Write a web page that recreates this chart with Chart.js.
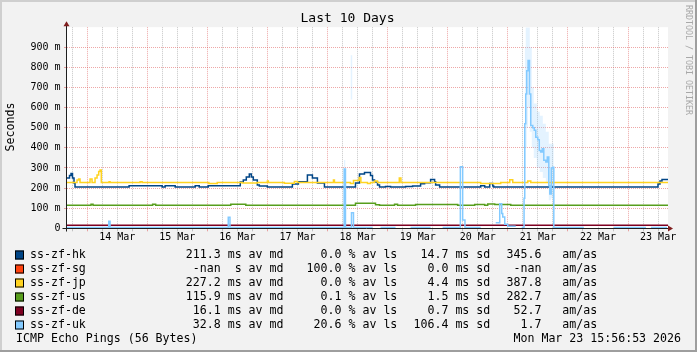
<!DOCTYPE html>
<html>
<head>
<meta charset="utf-8">
<script src="https://cdn.jsdelivr.net/npm/chart.js@4.4.1/dist/chart.umd.min.js"></script>
<style>
  html, body { margin: 0; padding: 0; background: #f2f2f2; }
  canvas { display: block; }
</style>
</head>
<body>
<canvas id="pingChart" width="697" height="352"></canvas>
<script>
// x values are hours since 13 Mar 00:00; graph ends Mon Mar 23 15:56:53
const startHour = 15.95;
const endHour = 255.95;
const dayLabels = ['14 Mar', '15 Mar', '16 Mar', '17 Mar', '18 Mar', '19 Mar', '20 Mar', '21 Mar', '22 Mar', '23 Mar'];

const targets = ['ss-zf-hk', 'ss-zf-sg', 'ss-zf-jp', 'ss-zf-us', 'ss-zf-de', 'ss-zf-uk'];
const colors = ['#004586', '#ff420e', '#ffd320', '#579d1c', '#7e0021', '#83caff'];
const medianMs = [211.3, NaN, 227.2, 115.9, 16.1, 32.8];
const lossPct = [0.0, 100.0, 0.0, 0.1, 0.0, 20.6];
const sdMs = [14.7, 0.0, 4.4, 1.5, 0.7, 106.4];
const amas = [345.6, NaN, 387.8, 282.7, 52.7, 1.7];

// median rtt in ms, step series (value holds from previous point up to the next)
const hkTime = [15.95, 16.95, 17.55, 18.15, 18.75, 19.15, 40.75, 53.95, 55.15, 59.15, 67.15, 68.75, 72.35, 85.15, 86.35, 87.55, 88.75, 89.55, 90.35, 91.95, 92.75, 95.95, 105.95, 108.35, 108.75, 111.95, 113.95, 115.95, 118.75, 131.15, 132.75, 134.75, 137.15, 137.95, 138.75, 139.95, 140.75, 143.15, 145.15, 151.15, 153.95, 157.15, 158.75, 161.15, 162.75, 163.15, 164.75, 181.15, 182.75, 184.75, 185.95, 186.35, 251.95, 252.75, 253.55, 255.95];
const hkMs = [250, 262, 273, 250, 225, 205, 212, 205, 212, 205, 212, 205, 212, 230, 240, 255, 270, 255, 240, 215, 210, 205, 220, 230, 232, 265, 250, 225, 205, 225, 270, 278, 262, 240, 230, 215, 205, 208, 205, 208, 210, 222, 226, 243, 232, 215, 205, 212, 205, 223, 210, 205, 220, 235, 243, 243];

const jpTime = [15.95, 19.95, 20.6, 21.15, 25.15, 25.95, 27.15, 27.95, 28.6, 29.15, 29.65, 32.75, 33.15, 45.15, 45.95, 72.6, 75.95, 85.95, 91.95, 95.95, 96.35, 102.75, 106.75, 107.95, 122.35, 122.75, 129.15, 130.35, 132.65, 133.3, 135.95, 137.15, 138.75, 139.95, 148.65, 149.3, 181.15, 189.15, 192.75, 193.95, 199.95, 201.15, 255.95];
const jpMs = [228, 240, 245, 228, 245, 228, 250, 265, 283, 290, 228, 232, 228, 232, 228, 223, 228, 225, 228, 235, 228, 224, 233, 228, 240, 228, 223, 238, 253, 228, 223, 228, 235, 228, 250, 228, 223, 228, 242, 228, 235, 228, 228];

const usTime = [15.95, 25.55, 26.35, 50.15, 51.35, 81.35, 87.35, 131.15, 139.15, 140.75, 146.75, 147.95, 155.15, 171.95, 178.75, 182.75, 183.95, 186.75, 193.15, 255.95];
const usMs = [114, 120, 114, 120, 114, 120, 114, 124, 117, 114, 119, 114, 118, 114, 118, 114, 121, 118, 114, 114];

const deTime = [15.95, 255.95];
const deMs = [15, 15];

const ukTime = [15.95, 32.63, 33.15, 80.35, 81.03, 126.63, 127.15, 129.55, 130.35, 137.95, 138.35, 141.15, 147.15, 147.55, 153.15, 161.15, 161.55, 165.95, 173.03, 173.95, 174.87, 181.15, 181.55, 187.15, 188.75, 189.55, 189.95, 190.75, 191.95, 195.15, 195.55, 197.55, 198.47, 198.75, 199.15, 199.55, 200.07, 200.63, 201.15, 201.95, 202.55, 203.15, 203.95, 204.55, 205.15, 205.75, 206.35, 207.15, 207.75, 208.35, 208.75, 209.35, 209.95, 210.35, 222.35, 222.75, 234.35, 247.15, 247.55, 249.15, 255.55];
const ukMs = [4, 35, 4, 55, 4, 295, 4, 77, 4, 4, null, 4, 4, null, 4, 4, null, 4, 306, 41, 4, 4, null, 28, 122, 74, 56, 20, 10, 10, null, 4, 150, 520, 668, 784, 834, 668, 511, 500, 488, 453, 440, 387, 380, 395, 338, 330, 354, 213, 170, 300, 304, 4, 4, null, 4, 4, null, 4, 4];

// uk smoke (spread of the pings)
const smokeTime = [126.55, 127.15, 127.55, 129.15, 129.95, 130.35, 198.75, 199.15, 199.55, 200.07, 200.75, 201.55, 202.35, 203.55, 204.75, 205.95, 207.15, 208.35, 209.15, 210.35];
const smokeLow = [0, 0, null, 640, 640, null, 300, 400, 500, 600, 480, 400, 350, 300, 280, 250, 230, 140, 150, 150];
const smokeHigh = [340, 340, null, 860, 860, null, 900, 1000, 1000, 1000, 900, 700, 620, 580, 560, 520, 480, 420, 420, 420];

const MONO = '"DejaVu Sans Mono", monospace';
const GRID = 'rgba(143,143,143,0.5)';
const MGRID = 'rgba(222,80,80,0.5)';

const xy = (xs, ys) => xs.map((x, i) => ({ x: x, y: ys[i] }));
const gridHours = [];
for (let h = Math.ceil(startHour / 6) * 6; h <= endHour; h += 6) gridHours.push(h);

function line(data, color, order) {
  return { data: data, borderColor: color, borderWidth: 1.5, pointRadius: 0, stepped: true, fill: false, order: order, spanGaps: false };
}

const fmt = v => (isNaN(v) ? '-nan' : v.toFixed(1)).padStart(5);

const decor = {
  id: 'decor',
  beforeDraw(chart) {
    const c = chart.ctx, a = chart.chartArea;
    c.save();
    c.fillStyle = '#f2f2f2';
    c.fillRect(0, 0, 697, 352);
    c.fillStyle = '#cfcfcf';
    c.fillRect(0, 0, 697, 2);
    c.fillRect(0, 0, 2, 352);
    c.fillStyle = '#9e9e9e';
    c.fillRect(0, 350, 697, 2);
    c.fillRect(695, 0, 2, 352);
    c.fillStyle = '#ffffff';
    c.fillRect(a.left, a.top, a.right - a.left, a.bottom - a.top);
    c.restore();
  },
  afterDatasetsDraw(chart) {
    const c = chart.ctx, a = chart.chartArea;
    const ax = Math.round(a.left) - 0.5, ay = Math.round(a.bottom) + 0.5;
    c.save();
    c.strokeStyle = '#1f1f1f';
    c.lineWidth = 1;
    c.beginPath();
    c.moveTo(ax, ay + 3); c.lineTo(ax, a.top - 2);
    c.moveTo(ax - 4, ay); c.lineTo(a.right + 2, ay);
    c.stroke();
    c.fillStyle = '#801f1f';
    c.beginPath();
    c.moveTo(ax - 3, a.top - 1); c.lineTo(ax + 3, a.top - 1); c.lineTo(ax, a.top - 6); c.closePath();
    c.fill();
    c.beginPath();
    c.moveTo(a.right, ay - 3); c.lineTo(a.right, ay + 3); c.lineTo(a.right + 5, ay); c.closePath();
    c.fill();
    c.restore();
  },
  afterDraw(chart) {
    const c = chart.ctx;
    c.save();
    c.fillStyle = '#000';
    c.textBaseline = 'middle';
    c.font = '13px ' + MONO;
    c.textAlign = 'center';
    c.fillText('Last 10 Days', 347.5, 19);

    c.save();
    c.translate(10.5, 127);
    c.rotate(-Math.PI / 2);
    c.font = '11.6px ' + MONO;
    c.fillText('Seconds', 0, 0);
    c.restore();

    c.save();
    c.translate(688.5, 5);
    c.rotate(Math.PI / 2);
    c.textAlign = 'left';
    c.fillStyle = '#a8a8a8';
    c.font = '8.3px ' + MONO;
    c.fillText('RRDTOOL / TOBI OETIKER', 0, 0);
    c.restore();

    c.font = '11.6px ' + MONO;
    c.textAlign = 'left';
    targets.forEach((name, i) => {
      const y = 254.5 + 14 * i;
      c.fillStyle = colors[i];
      c.fillRect(15, y - 4, 9, 9);
      c.strokeStyle = '#000';
      c.lineWidth = 1;
      c.strokeRect(15.5, y - 3.5, 8, 8);
      c.fillStyle = '#000';
      c.fillText(name, 30, y);
      const unit = isNaN(medianMs[i]) ? ' ' : 'm';
      c.fillText(fmt(medianMs[i]) + ' ' + unit + 's av md', 185.8, y);
      c.fillText(fmt(lossPct[i]) + ' % av ls', 306.6, y);
      c.fillText(fmt(sdMs[i]) + ' ms sd', 413.5, y);
      c.fillText(fmt(amas[i]) + '   am/as', 506.5, y);
    });
    c.fillText('ICMP Echo Pings (56 Bytes)', 16, 338.5);
    c.textAlign = 'right';
    c.fillText('Mon Mar 23 15:56:53 2026', 681, 338.5);
    c.restore();
  }
};

new Chart(document.getElementById('pingChart'), {
  type: 'line',
  data: {
    datasets: [
      { data: xy(smokeTime, smokeHigh), borderWidth: 0, pointRadius: 0, stepped: true, fill: '+1', backgroundColor: 'rgba(131,202,255,0.22)', order: 10 },
      { data: xy(smokeTime, smokeLow), borderWidth: 0, pointRadius: 0, stepped: true, fill: false, order: 11 },
      line(xy(hkTime, hkMs), colors[0], 6),
      line(xy(jpTime, jpMs), colors[2], 4),
      line(xy(usTime, usMs), colors[3], 3),
      line(xy(deTime, deMs), colors[4], 2),
      line(xy(ukTime, ukMs), colors[5], 1)
    ]
  },
  options: {
    responsive: false,
    animation: false,
    devicePixelRatio: 1,
    layout: { padding: { top: 27.2, right: 29, bottom: 0, left: 0 } },
    plugins: { legend: { display: false }, tooltip: { enabled: false } },
    scales: {
      x: {
        type: 'linear',
        min: startHour,
        max: endHour,
        afterBuildTicks: s => { s.ticks = gridHours.map(v => ({ value: v })); },
        afterFit: s => { s.height = 123.7; },
        grid: {
          color: ctx => (ctx.tick && ctx.tick.value % 24 === 0 ? MGRID : GRID),
          tickLength: 3
        },
        border: { display: false, dash: [1, 1] },
        ticks: {
          autoSkip: false,
          maxRotation: 0,
          padding: 0,
          color: '#000',
          font: { family: MONO, size: 10 },
          callback: v => (v % 24 === 12 ? dayLabels[(v - 36) / 24] || '' : '')
        }
      },
      y: {
        type: 'linear',
        min: 0,
        max: 1000,
        afterFit: s => { s.width = 67; },
        grid: {
          color: ctx => {
            const v = ctx.tick ? ctx.tick.value : 0;
            if (v === 0 || v === 1000) return 'rgba(0,0,0,0)';
            return v % 100 === 0 ? MGRID : GRID;
          },
          tickLength: 3
        },
        border: { display: false, dash: [1, 1] },
        ticks: {
          stepSize: 50,
          padding: 3.5,
          color: '#000',
          font: { family: MONO, size: 10 },
          callback: v => (v === 0 ? '0' : (v % 100 === 0 && v < 1000 ? v + ' m' : ''))
        }
      }
    }
  },
  plugins: [decor]
});
</script>
</body>
</html>
